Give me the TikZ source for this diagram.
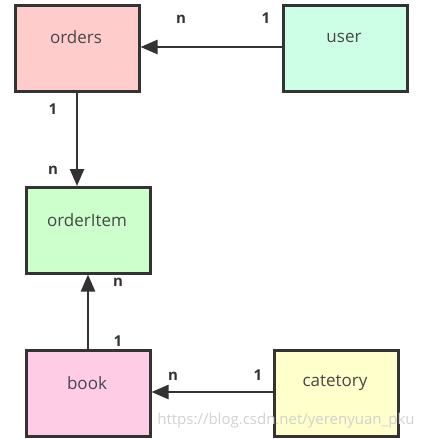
\documentclass[tikz,border=0pt]{standalone}
\usepackage{fontspec}
\setmainfont{Open Sans}
\usetikzlibrary{arrows.meta}
\definecolor{edge}{HTML}{333333}
\definecolor{cOrders}{HTML}{FFCCCC}
\definecolor{cUser}{HTML}{CCFFE6}
\definecolor{cItem}{HTML}{CCFFCC}
\definecolor{cBook}{HTML}{FFCCE6}
\definecolor{cCat}{HTML}{FFFFCC}
\begin{document}
\begin{tikzpicture}[x=1pt,y=-1pt,
  entity/.style={draw=edge,line width=2.5pt,minimum width=124pt,minimum height=86pt,anchor=north west,inner sep=0pt},
  etext/.style={font=\fontsize{17}{19}\selectfont,text=edge!90},
  card/.style={font=\bfseries\fontsize{15}{17}\selectfont,text=edge},
  link/.style={draw=edge,line width=2.5pt,-{Triangle[length=17pt,width=14pt]}},
  wm/.style={font=\fontsize{15}{17}\selectfont,text=black!18}]
\useasboundingbox (0,0) rectangle (421,439);
\node[entity,fill=cOrders] (orders) at (14,4) {};
\node[entity,fill=cUser] (user) at (282,4) {};
\node[entity,fill=cItem] (item) at (25,186) {};
\node[entity,fill=cBook] (book) at (25,349) {};
\node[entity,fill=cCat] (cat) at (273,349) {};
\node[etext] (tOrders) at (76,37) {orders};
\node[etext] (tUser) at (344,38) {user};
\node[etext] (tItem) at (87,220) {orderItem};
\node[etext] (tBook) at (87,383) {book};
\node[etext] (tCat) at (335,383) {catetory};
\draw[link] (user.west |- 0,47) -- (orders.east |- 0,47);
\draw[link] (orders.south -| 77,0) -- (item.north -| 77,0);
\draw[link] (book.north -| 88,0) -- (item.south -| 88,0);
\draw[link] (cat.west |- 0,392) -- (book.east |- 0,392);
\node[card] (l1) at (181,19) {n};
\node[card] (l2) at (266,18) {1};
\node[card] (l3) at (53,109) {1};
\node[card] (l4) at (53,170) {n};
\node[card] (l5) at (118,282) {n};
\node[card] (l6) at (118,341) {1};
\node[card] (l7) at (173,376) {n};
\node[card] (l8) at (258,375) {1};
\node[wm] (w) at (286,421) {https://blog.csdn.net/yerenyuan\_pku};
\end{tikzpicture}
\end{document}
